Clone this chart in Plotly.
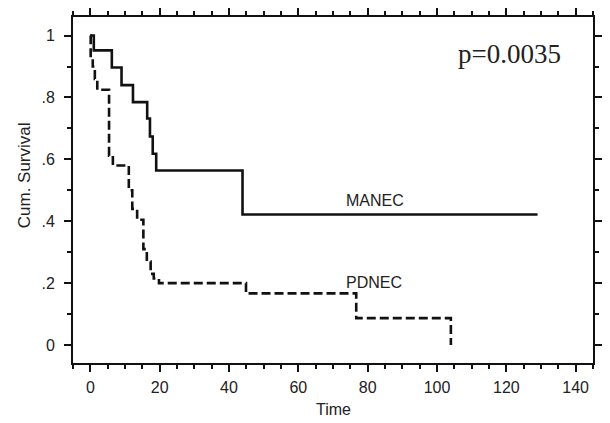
import plotly.graph_objects as go

# --- data ---
manec_time = [0, 1.0, 6.2, 9.0, 12.3, 16.4, 17.2, 18.0, 19.0, 43.9, 129.0]
manec_surv = [1.0, 0.952, 0.897, 0.840, 0.785, 0.732, 0.674, 0.618, 0.564, 0.422, 0.422]

pdnec_time = [0, 0.1, 0.7, 1.3, 2.0, 5.4, 6.5, 11.1, 12.1, 13.5, 15.3, 16.3, 17.4, 18.3, 19.8, 44.9, 76.7, 104.0]
pdnec_surv = [1.0, 0.93, 0.90, 0.86, 0.825, 0.612, 0.58, 0.50, 0.44, 0.405, 0.31, 0.27, 0.23, 0.215, 0.20, 0.167, 0.087, 0.0]

x_ticks = [0, 20, 40, 60, 80, 100, 120, 140]
y_ticks = [0, 0.2, 0.4, 0.6, 0.8, 1.0]
y_ticktext = ["0", ".2", ".4", ".6", ".8", "1"]

group_labels = ["MANEC", "PDNEC"]
p_text = "p=0.0035"

fig = go.Figure()
fig.add_trace(go.Scatter(x=manec_time, y=manec_surv, mode="lines", line_shape="hv",
                         line=dict(color="#111111", width=2.6), name=group_labels[0],
                         showlegend=False))
fig.add_trace(go.Scatter(x=pdnec_time, y=pdnec_surv, mode="lines", line_shape="hv",
                         line=dict(color="#111111", width=2.6, dash="9px,4px"),
                         name=group_labels[1], showlegend=False))

tickfont = dict(family="Liberation Sans, Arial", size=16, color="#222222")
axis_common = dict(showline=True, linecolor="#111111", linewidth=2, mirror="allticks",
                   ticks="outside", ticklen=7, tickwidth=2, tickcolor="#111111",
                   showgrid=False, zeroline=False, tickfont=tickfont)

fig.update_xaxes(range=[-5, 145], tickvals=x_ticks, ticklabelstandoff=2,
                 minor=dict(dtick=5, tick0=0, ticklen=4, tickwidth=1.5, tickcolor="#111111",
                            ticks="outside", showgrid=False),
                 **axis_common)
fig.update_yaxes(range=[-0.058, 1.06], tickvals=y_ticks, ticktext=y_ticktext,
                 ticklabelstandoff=6,
                 minor=dict(dtick=0.1, tick0=0, ticklen=4, tickwidth=1.5, tickcolor="#111111",
                            ticks="outside", showgrid=False),
                 **axis_common)

lab_font = dict(family="Liberation Sans, Arial", size=16, color="#222222")
fig.add_annotation(x=82.0, y=0.466, xref="x", yref="y", text=group_labels[0],
                   showarrow=False, font=lab_font, xanchor="center", yanchor="middle")
fig.add_annotation(x=81.8, y=0.202, xref="x", yref="y", text=group_labels[1],
                   showarrow=False, font=lab_font, xanchor="center", yanchor="middle")
fig.add_annotation(x=120.9, y=0.939, xref="x", yref="y", text=p_text,
                   showarrow=False, xanchor="center", yanchor="middle",
                   font=dict(family="Liberation Serif, Times New Roman", size=27, color="#222222"))
fig.add_annotation(x=-0.0933, y=0.544, xref="paper", yref="paper", text="Cum. Survival",
                   showarrow=False, textangle=-90, xanchor="center", yanchor="middle",
                   font=dict(family="Liberation Sans, Arial", size=17, color="#222222"))
fig.add_annotation(x=0.501, y=-0.134, xref="paper", yref="paper", text="Time",
                   showarrow=False, xanchor="center", yanchor="middle",
                   font=dict(family="Liberation Sans, Arial", size=16, color="#222222"))

fig.update_layout(width=610, height=423, margin=dict(l=73, r=8, t=10, b=60),
                  plot_bgcolor="white", paper_bgcolor="white")

fig.write_html("out.html")
